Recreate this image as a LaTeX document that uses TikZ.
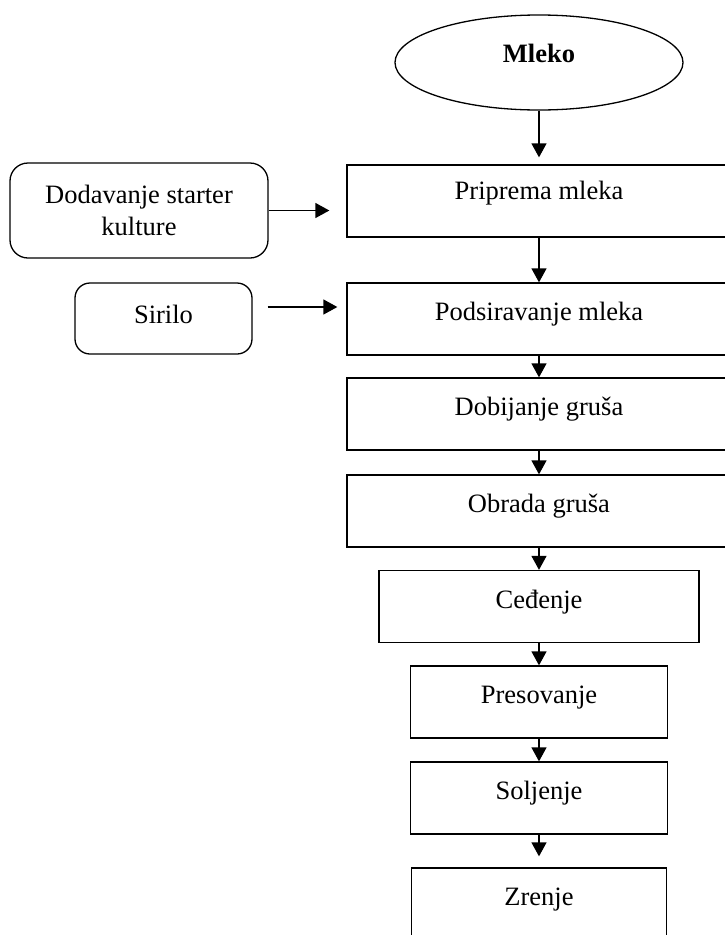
\documentclass[tikz,border=0pt]{standalone}
\usepackage{fontspec}
\setmainfont{Liberation Serif}
\usetikzlibrary{shapes.geometric,arrows.meta}
\begin{document}
\begin{tikzpicture}[x=1pt,y=-1pt,
  f/.style={font=\fontsize{26.5}{32}\selectfont},
  pbox/.style={draw, line width=1.3pt, rectangle, inner sep=0pt, f,
    text height=37.5pt, text depth=34.5pt, minimum width=#1},
  rbox/.style={draw, line width=1.3pt, rectangle, inner sep=0pt, f, align=center},
  arr/.style={line width=1.3pt, -{Triangle[width=15pt,length=14pt]}}
]
\clip (0,0) rectangle (725,935);
\fill[white] (0,0) rectangle (725,935);
% start
\node[draw, ellipse, line width=1.3pt, inner sep=0pt, minimum width=288pt, minimum height=95pt,
  f, font=\fontsize{26.5}{32}\selectfont\bfseries, text height=0pt, text depth=0pt] (mleko) at (539,62.5) {Mleko};
% process boxes
\node[pbox=384pt, text height=34.5pt, text depth=37.5pt] (b1) at (539,201) {Priprema mleka};
\node[pbox=384pt] (b2) at (539,319) {Podsiravanje mleka};
\node[pbox=384pt] (b3) at (539,414) {Dobijanje gruša};
\node[pbox=384pt] (b4) at (539,511) {Obrada gruša};
\node[pbox=320pt] (b5) at (539,606.5) {Ceđenje};
\node[pbox=257pt] (b6) at (539,702) {Presovanje};
\node[pbox=257pt] (b7) at (539,798) {Soljenje};
\node[pbox=255pt] (b8) at (539,904) {Zrenje};
% side inputs
\node[rbox, rounded corners=18pt, minimum width=258pt, minimum height=95pt] (dod) at (139,210.5) {Dodavanje starter\\kulture};
\node[rbox, rounded corners=15pt, minimum width=177pt, minimum height=71pt, text height=18pt, text depth=9pt] (sir) at (163.5,318.5) {Sirilo};
% connectors
\draw[arr, shorten >=7pt] (mleko) -- (b1);
\draw[arr] (b1) -- (b2);
\draw[arr] (b2) -- (b3);
\draw[arr] (b3) -- (b4);
\draw[arr] (b4) -- (b5);
\draw[arr] (b5) -- (b6);
\draw[arr] (b6) -- (b7);
\draw[arr, shorten >=11pt] (b7) -- (b8);
\draw[arr, shorten >=17pt] (dod) -- (dod -| b1.west);
\draw[arr, shorten <=15pt, shorten >=9pt] ([yshift=11.5pt]sir.east) -- ([yshift=11.5pt]sir.east -| b2.west);
\end{tikzpicture}
\end{document}
